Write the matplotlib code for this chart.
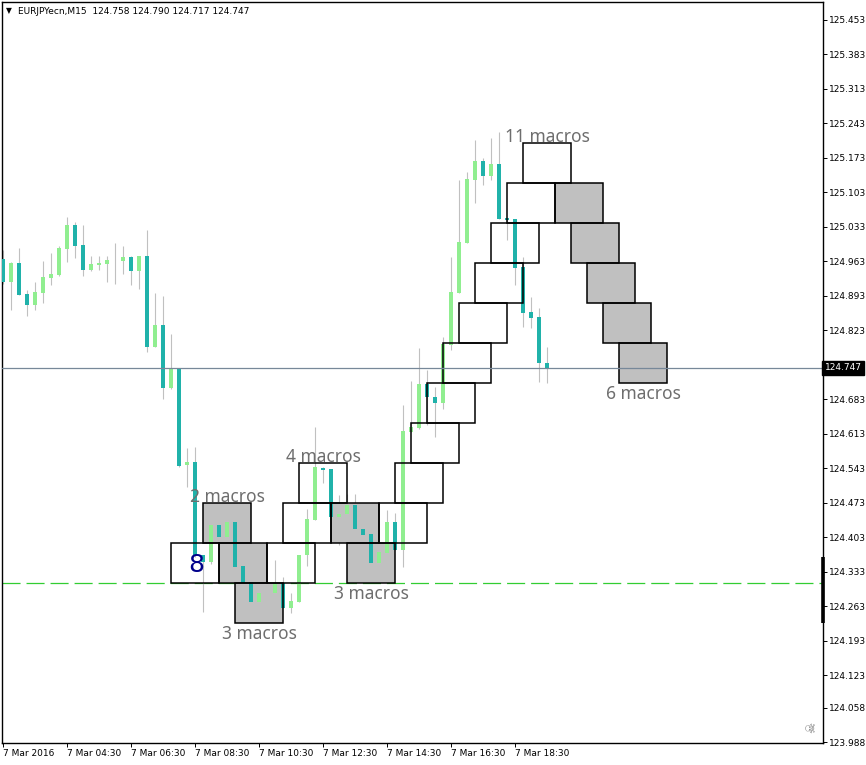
import matplotlib.pyplot as plt
from matplotlib.patches import Rectangle

# EURJPYecn M15, 7 Mar 2016 (one entry per bar)
opens = [124.968, 124.921, 124.960, 124.897, 124.875, 124.899, 124.930, 124.936, 124.988, 125.037,
         124.996, 124.946, 124.956, 124.958, 124.961, 124.964, 124.972, 124.944, 124.974, 124.790,
         124.834, 124.706, 124.745, 124.550, 124.556, 124.367, 124.353, 124.428, 124.404, 124.434,
         124.345, 124.313, 124.272, 124.311, 124.290, 124.311, 124.260, 124.272, 124.367, 124.438,
         124.544, 124.542, 124.444, 124.451, 124.469, 124.420, 124.410, 124.351, 124.371, 124.434,
         124.378, 124.617, 124.625, 124.714, 124.688, 124.676, 124.794, 124.899, 125.001, 125.128,
         125.167, 125.137, 125.161, 125.051, 125.049, 124.952, 124.860, 124.850, 124.758]
highs = [124.986, 124.962, 124.990, 124.905, 124.921, 124.964, 124.980, 124.994, 125.053, 125.043,
         125.037, 124.974, 124.974, 124.974, 125.001, 124.994, 124.974, 124.974, 125.027, 124.899,
         124.893, 124.816, 124.745, 124.584, 124.587, 124.367, 124.428, 124.428, 124.436, 124.436,
         124.345, 124.313, 124.290, 124.313, 124.357, 124.323, 124.290, 124.367, 124.461, 124.627,
         124.546, 124.542, 124.489, 124.491, 124.491, 124.420, 124.410, 124.380, 124.459, 124.453,
         124.672, 124.721, 124.787, 124.743, 124.708, 124.810, 124.972, 125.128, 125.145, 125.210,
         125.173, 125.214, 125.226, 125.051, 125.049, 124.972, 124.891, 124.869, 124.790]
lows = [124.917, 124.865, 124.895, 124.852, 124.865, 124.879, 124.915, 124.934, 124.962, 124.970,
        124.934, 124.944, 124.946, 124.921, 124.917, 124.938, 124.915, 124.907, 124.779, 124.790,
        124.684, 124.704, 124.546, 124.505, 124.364, 124.252, 124.349, 124.402, 124.402, 124.343,
        124.311, 124.272, 124.272, 124.304, 124.290, 124.260, 124.250, 124.272, 124.345, 124.438,
        124.514, 124.444, 124.388, 124.451, 124.420, 124.408, 124.351, 124.351, 124.371, 124.378,
        124.343, 124.617, 124.623, 124.631, 124.607, 124.664, 124.783, 124.899, 125.001, 125.082,
        125.118, 125.128, 125.049, 125.007, 124.915, 124.830, 124.828, 124.718, 124.717]
closes = [124.921, 124.960, 124.895, 124.875, 124.901, 124.932, 124.938, 124.990, 125.037, 124.994,
          124.946, 124.958, 124.960, 124.966, 124.961, 124.972, 124.944, 124.974, 124.790, 124.834,
          124.706, 124.745, 124.548, 124.556, 124.367, 124.353, 124.428, 124.404, 124.434, 124.343,
          124.311, 124.272, 124.290, 124.311, 124.309, 124.260, 124.274, 124.367, 124.440, 124.546,
          124.540, 124.444, 124.451, 124.469, 124.420, 124.408, 124.351, 124.373, 124.434, 124.378,
          124.619, 124.627, 124.714, 124.688, 124.676, 124.796, 124.901, 125.003, 125.130, 125.167,
          125.137, 125.161, 125.049, 125.047, 124.950, 124.858, 124.848, 124.757, 124.747]

# renko boxes: first bar, low price, down box (grey) or up box (white)
box_start = [21, 25, 27, 29, 33, 35, 37, 41, 43, 47, 49, 51, 53, 55, 57, 59, 61, 63, 65,
             69, 71, 73, 75, 77]
box_low = [124.310, 124.392, 124.310, 124.229, 124.310, 124.392, 124.473, 124.392, 124.310,
           124.392, 124.473, 124.554, 124.635, 124.716, 124.797, 124.879, 124.960, 125.041,
           125.122, 125.041, 124.960, 124.879, 124.797, 124.716]
box_down = [False, True, True, True, False, False, False, True, True, False, False, False,
            False, False, False, False, False, False, False, True, True, True, True, True]
BOX_H = 0.081
BOX_W = 6

labels = ["2 macros", "3 macros", "4 macros", "3 macros", "11 macros", "6 macros"]
label_bar = [28, 32, 40, 46, 68, 80]
label_price = [124.473, 124.229, 124.554, 124.310, 125.203, 124.716]
label_above = [True, False, True, False, True, False]

bid = 124.747
level = 124.310
y_ticks = [125.453, 125.383, 125.313, 125.243, 125.173, 125.103, 125.033, 124.963, 124.893,
           124.823, 124.683, 124.613, 124.543, 124.473, 124.403, 124.333, 124.263, 124.193,
           124.123, 124.058, 123.988]
x_tick_labels = ["7 Mar 2016", "7 Mar 04:30", "7 Mar 06:30", "7 Mar 08:30", "7 Mar 10:30",
                 "7 Mar 12:30", "7 Mar 14:30", "7 Mar 16:30", "7 Mar 18:30"]

plt.rcParams['lines.scale_dashes'] = False

fig = plt.figure(figsize=(8.66, 7.65), dpi=100)
ax = fig.add_axes([2 / 866, 22 / 765, 821 / 866, 741 / 765])

# boxes: fill behind candles, border on top
for s, lo, dn in zip(box_start, box_low, box_down):
    ax.add_patch(Rectangle((s, lo), BOX_W, BOX_H, facecolor='#c0c0c0' if dn else 'white',
                           edgecolor='none', zorder=1))
    ax.add_patch(Rectangle((s, lo), BOX_W, BOX_H, fill=False, edgecolor='black',
                           linewidth=1.1, zorder=4))

# candles
n = len(opens)
xs = list(range(n))
ax.vlines(xs, lows, highs, color='#c0c0c0', linewidth=0.8, zorder=2)
bottoms = [min(o, c) for o, c in zip(opens, closes)]
heights = [max(abs(c - o), 0.0015) for o, c in zip(opens, closes)]
colors = ['#90ee90' if c >= o else '#20b2aa' for o, c in zip(opens, closes)]
ax.bar(xs, heights, bottom=bottoms, width=0.42, color=colors, linewidth=0, zorder=3)

for t, b, p, up in zip(labels, label_bar, label_price, label_above):
    ax.annotate(t, (b, p), xytext=(0, 1 if up else -1), textcoords='offset points',
                ha='center', va='baseline' if up else 'top', fontsize=12.5,
                family='Noto Sans', color='#6e6e6e', zorder=5)

ax.text(24.1, 124.347, "8", ha='center', va='center', fontsize=18, family='DejaVu Sans',
        color='#00008b', zorder=5)

ax.axhline(bid, color='#778899', linewidth=0.9, zorder=6)
ln = ax.axhline(level, color='#32cd32', linewidth=0.9, zorder=0.5)
ln.set_dashes((13, 4.3))

ax.set_xlim(-0.125, 102.5)
ax.set_ylim(123.986, 125.4895)

ax.yaxis.tick_right()
ax.set_yticks(y_ticks)
ax.set_yticklabels([f"{v:.3f}" for v in y_ticks])
ax.set_xticks(range(0, 8 * len(x_tick_labels), 8))
ax.set_xticklabels(x_tick_labels)
for lbl in ax.get_xticklabels():
    lbl.set_horizontalalignment('left')
ax.tick_params(axis='both', direction='out', length=3, width=0.7, labelsize=6.5,
               colors='black', pad=1.5)
for sp in ax.spines.values():
    sp.set_linewidth(1.0)
    sp.set_color('black')

ybx = ax.get_yaxis_transform()
ax.plot([1, 1], [124.229, 124.364], transform=ybx, color='black', linewidth=2.6,
        solid_capstyle='butt', clip_on=False, zorder=7)
ax.text(1.002, bid, f"{bid:.3f}", transform=ybx, ha='left', va='center', fontsize=6.5,
        color='white', bbox=dict(boxstyle='square,pad=0.25', fc='black', ec='black'),
        zorder=8)

fig.text(6 / 866, 1 - 11 / 765, "\u25bc", fontsize=5.5, va='center', ha='left')
fig.text(18 / 866, 1 - 11 / 765, "EURJPYecn,M15  124.758 124.790 124.717 124.747",
         fontsize=6.5, va='center', ha='left')
fig.text(812 / 866, 1 - 727 / 765, "\u2620", fontsize=9, rotation=90, color='#808080',
         va='center', ha='center')

fig.savefig("out.png", dpi=100)
